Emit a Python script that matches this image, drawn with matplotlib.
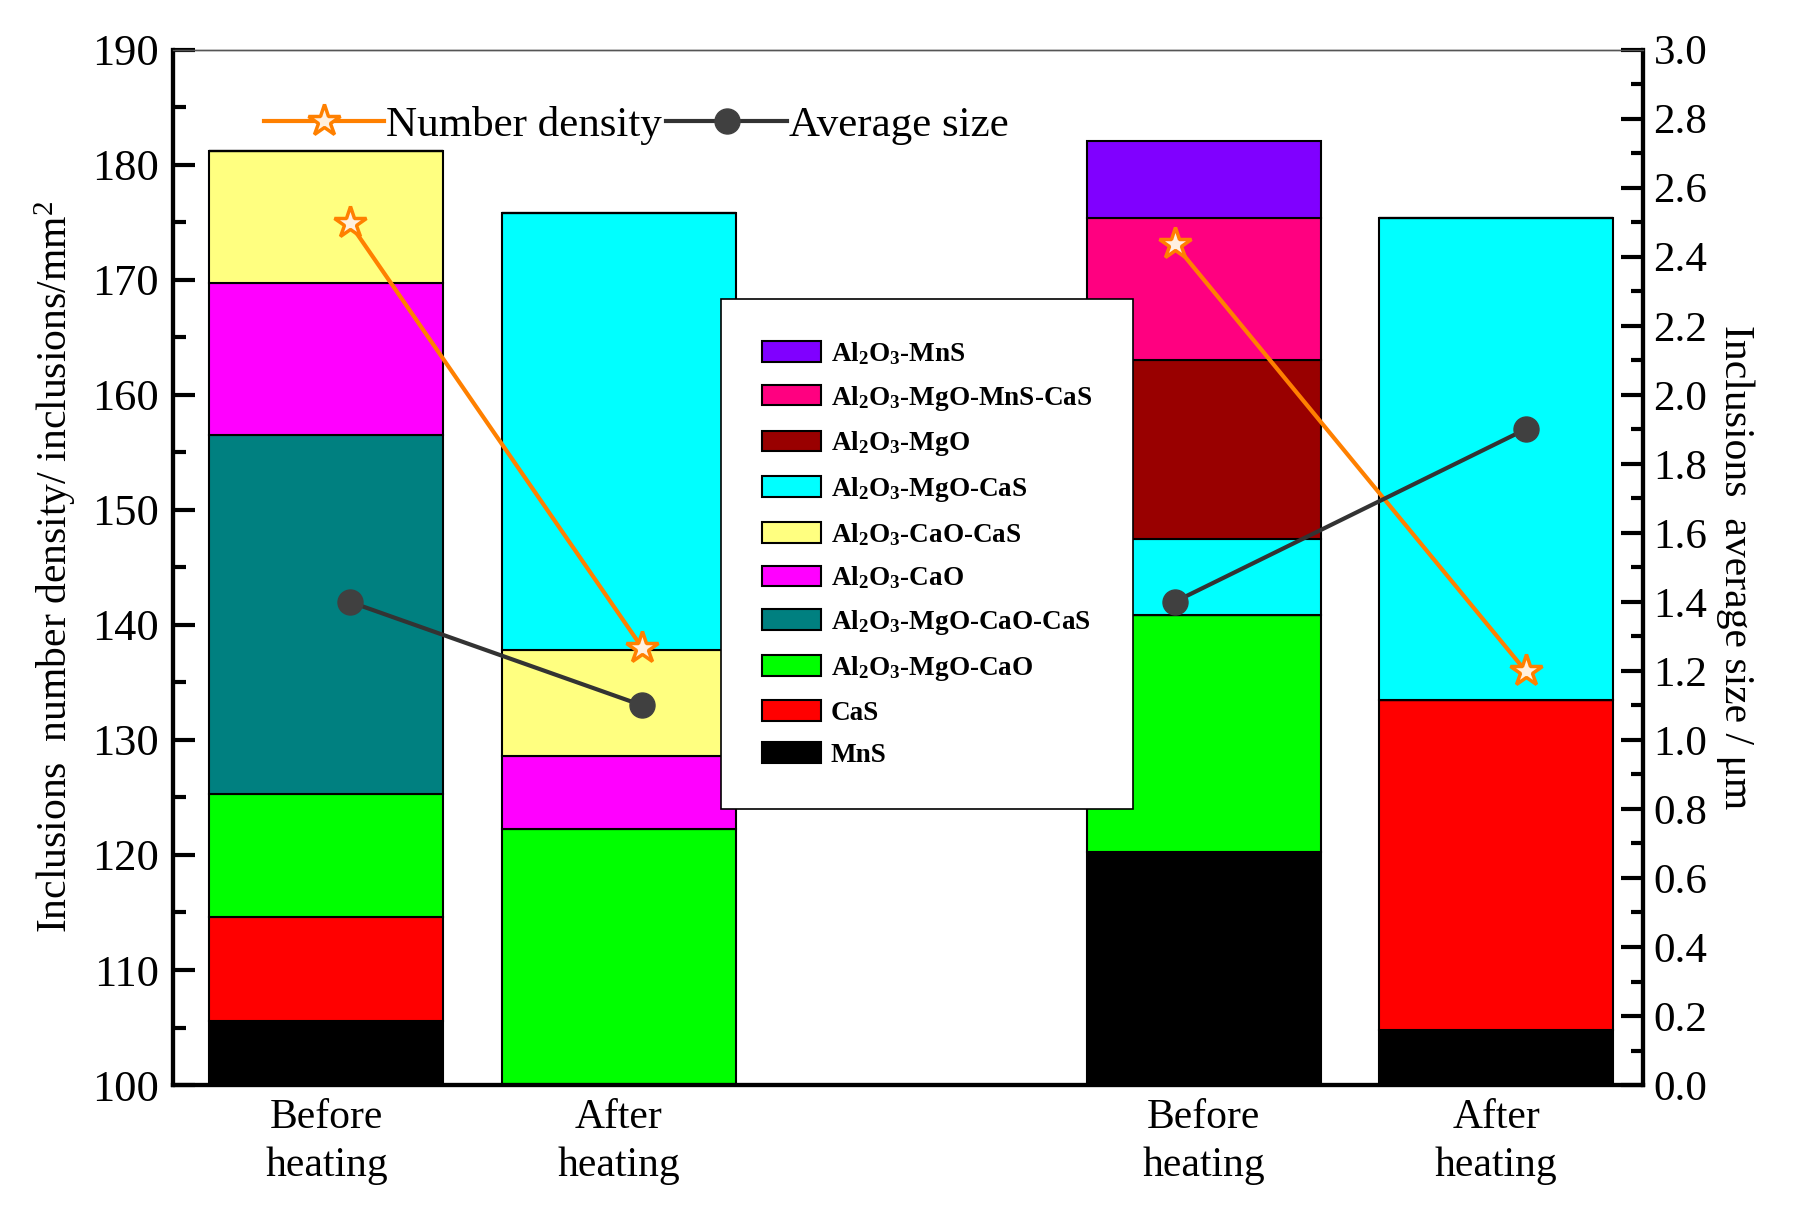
import numpy as np
import matplotlib.pyplot as plt
from matplotlib.ticker import MultipleLocator

plt.rcParams['font.family'] = ['Liberation Serif', 'DejaVu Serif']
plt.rcParams['mathtext.fontset'] = 'custom'
plt.rcParams['mathtext.rm'] = 'Liberation Serif'
plt.rcParams['mathtext.bf'] = 'Liberation Serif:bold'
plt.rcParams['mathtext.default'] = 'regular'

# samples and bar positions
samples = ['Before\nheating', 'After\nheating', 'Before\nheating', 'After\nheating']
bar_x = [1, 2, 4, 5]
point_x = [1.08, 2.08, 3.9, 5.1]   # markers sit a little off the bar centres

# stacked segments (bottom to top), heights above the 100 baseline
phases = ['MnS', 'CaS', 'Al$_2$O$_3$-MgO-CaO', 'Al$_2$O$_3$-MgO-CaO-CaS',
          'Al$_2$O$_3$-CaO', 'Al$_2$O$_3$-CaO-CaS', 'Al$_2$O$_3$-MgO-CaS',
          'Al$_2$O$_3$-MgO', 'Al$_2$O$_3$-MgO-MnS-CaS', 'Al$_2$O$_3$-MnS']
colors = ['#000000', '#FF0000', '#00FF00', '#008080', '#FF00FF', '#FFFF80',
          '#00FFFF', '#990000', '#FF0080', '#8000FF']
mns = [5.6, 0.0, 20.3, 4.8]
cas = [9.0, 0.0, 0.0, 28.7]
mgo_cao = [10.7, 22.3, 20.6, 0.0]
mgo_cao_cas = [31.2, 0.0, 0.0, 0.0]
cao = [13.2, 6.3, 0.0, 0.0]
cao_cas = [11.5, 9.2, 0.0, 0.0]
mgo_cas = [0.0, 38.0, 6.6, 41.9]
mgo = [0.0, 0.0, 15.5, 0.0]
mgo_mns_cas = [0.0, 0.0, 12.4, 0.0]
al_mns = [0.0, 0.0, 6.7, 0.0]
segments = [mns, cas, mgo_cao, mgo_cao_cas, cao, cao_cas, mgo_cas, mgo, mgo_mns_cas, al_mns]

number_density = [174.9, 138.0, 173.1, 136.0]
average_size = [1.4, 1.1, 1.4, 1.9]

fig = plt.figure(figsize=(18.01, 12.11), dpi=100)
ax = fig.add_axes([0.096, 0.104, 0.816, 0.855])
ax2 = ax.twinx()

base = np.full(len(bar_x), 100.0)
bar_handles = []
for name, col, vals in zip(phases, colors, segments):
    vals = np.array(vals)
    h = ax.bar(bar_x, vals, 0.8, bottom=base, color=col, edgecolor='black',
               linewidth=1.5, label=name, zorder=2)
    bar_handles.append(h)
    base = base + vals

# lines, each pair joined separately
l1 = None
l2 = None
for i in (0, 2):
    l1, = ax.plot(point_x[i:i + 2], number_density[i:i + 2], '-', color='#FF8000',
                  lw=3, marker='*', ms=24, mfc='#FFF0E0', mec='#FF8000', mew=2.5,
                  zorder=5, label='Number density')
    l2, = ax2.plot(point_x[i:i + 2], average_size[i:i + 2], '-', color='#333333',
                   lw=3, marker='o', ms=18, mfc='#404040', mec='#404040',
                   zorder=5, label='Average size')

ax.set_xlim(0.475, 5.5)
ax.set_ylim(100, 190)
ax2.set_ylim(0, 3.0)
ax.set_xticks(bar_x)
ax.set_xticklabels(samples, fontsize=30, linespacing=1.3)
ax.tick_params(axis='x', length=0, pad=10)

ax.yaxis.set_major_locator(MultipleLocator(10))
ax.yaxis.set_minor_locator(MultipleLocator(5))
ax2.yaxis.set_major_locator(MultipleLocator(0.2))
ax2.yaxis.set_minor_locator(MultipleLocator(0.1))
ax2.yaxis.set_major_formatter(plt.FormatStrFormatter('%.1f'))
ax.tick_params(axis='y', which='major', direction='in', length=16, width=3,
               labelsize=32, pad=10)
ax.tick_params(axis='y', which='minor', direction='in', length=9, width=3)
ax2.tick_params(axis='y', which='major', direction='in', length=16, width=3,
                labelsize=31, pad=8)
ax2.tick_params(axis='y', which='minor', direction='in', length=9, width=3)

for a in (ax, ax2):
    for s in ('left', 'right', 'bottom'):
        a.spines[s].set_linewidth(3)
    a.spines['top'].set_linewidth(1)
    a.spines['top'].set_color('#555555')

ax.set_ylabel('Inclusions  number density/ inclusions/mm$^2$', fontsize=30, labelpad=10)
ax2.set_ylabel('Inclusions  average size / \u03bcm', fontsize=30, rotation=270, labelpad=34)

leg_bars = ax2.legend(handles=bar_handles[::-1], loc='upper left',
                      bbox_to_anchor=(0.373, 0.759), frameon=True, fancybox=False,
                      edgecolor='black', framealpha=1, borderpad=1.5,
                      borderaxespad=0, handlelength=2.2, handleheight=0.8,
                      handletextpad=0.35, labelspacing=0.62,
                      prop={'weight': 'bold', 'size': 19.5})
leg_bars.get_frame().set_linewidth(1.2)
ax2.add_artist(leg_bars)
ax2.legend(handles=[l1, l2], loc='center left', bbox_to_anchor=(0.05, 0.927),
           ncol=2, frameon=False, fontsize=31, handlelength=2.8,
           handletextpad=0.05, columnspacing=0.1, borderaxespad=0)

fig.savefig('out.png', dpi=100)
